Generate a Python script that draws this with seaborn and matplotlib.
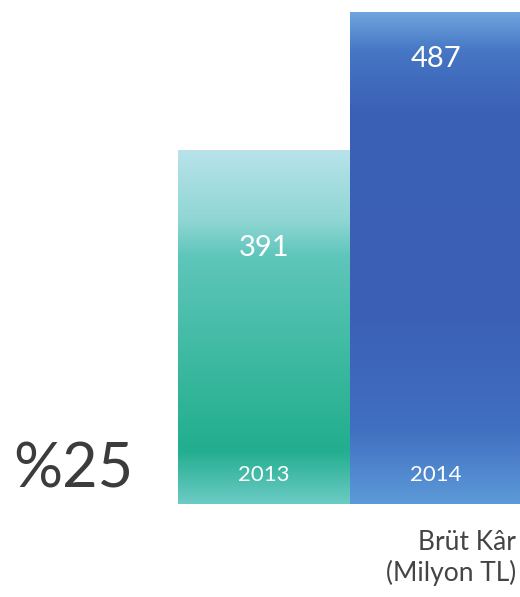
import numpy as np
import pandas as pd
import matplotlib
matplotlib.use("Agg")
import matplotlib.pyplot as plt
from matplotlib.colors import LinearSegmentedColormap
import seaborn as sns

# -----------------------
# DATA
# -----------------------
years = ["2013", "2014"]
gross_profit = [391, 487]
value_labels = ["391", "487"]
growth_text = "%25"
unit_text = "Brüt Kâr\n(Milyon TL)"

# watercolour-ish gradients, top -> bottom (position, colour)
bar_colors = [
    [(0.0, "#b8e3ea"), (0.2, "#8fd6d4"), (0.3, "#5fc6bb"), (0.6, "#3cb9a0"),
     (0.85, "#22ae8f"), (1.0, "#6ccbc5")],
    [(0.0, "#6ea6df"), (0.08, "#4676c4"), (0.2, "#3b61b6"), (0.6, "#3a5fb5"),
     (0.85, "#416fc1"), (1.0, "#5c9ad8")],
]

df = pd.DataFrame({"year": years, "value": gross_profit})

sns.set_theme(style="white")
plt.rcParams["font.family"] = ["Lato", "DejaVu Sans"]

fig = plt.figure(figsize=(5.2, 5.97), dpi=100)
ax = fig.add_axes([0.342, 0.156, 0.662, 0.844])

sns.barplot(data=df, x="year", y="value", hue="year", palette=["#5cc6b9", "#3a62b8"],
            width=1.0, legend=False, ax=ax, saturation=1)

ax.set_ylim(145, 495)
ax.set_xlim(-0.5, 1.5)

# gradient fill clipped to each bar
for patch, cols in zip(ax.patches, bar_colors):
    x0, y0 = patch.get_x(), max(patch.get_y(), 145)
    w, h = patch.get_width(), patch.get_height()
    cmap = LinearSegmentedColormap.from_list("g", cols)
    grad = np.linspace(0, 1, 256).reshape(-1, 1)
    im = ax.imshow(grad, cmap=cmap, aspect="auto", origin="upper",
                   extent=[x0, x0 + w, y0, patch.get_y() + h], zorder=patch.get_zorder() + 0.1)
    im.set_clip_path(patch)

# value labels & year labels
label_y = [323, 454]
for i, (lab, yr) in enumerate(zip(value_labels, years)):
    ax.text(i, label_y[i], lab, ha="center", va="center", color="white", fontsize=21, zorder=5)
    ax.text(i, 165, yr, ha="center", va="center", color="white", fontsize=16, zorder=5)

ax.set_xlabel("")
ax.set_ylabel("")
ax.set_xticks([])
ax.set_yticks([])
sns.despine(ax=ax, left=True, bottom=True)

fig.text(0.025, 0.213, growth_text, ha="left", va="center", fontsize=44, color="#3c3c3c")
fig.text(0.992, 0.065, unit_text, ha="right", va="center", fontsize=19, color="#444444",
         linespacing=1.25)

plt.savefig("out.png", dpi=100)
